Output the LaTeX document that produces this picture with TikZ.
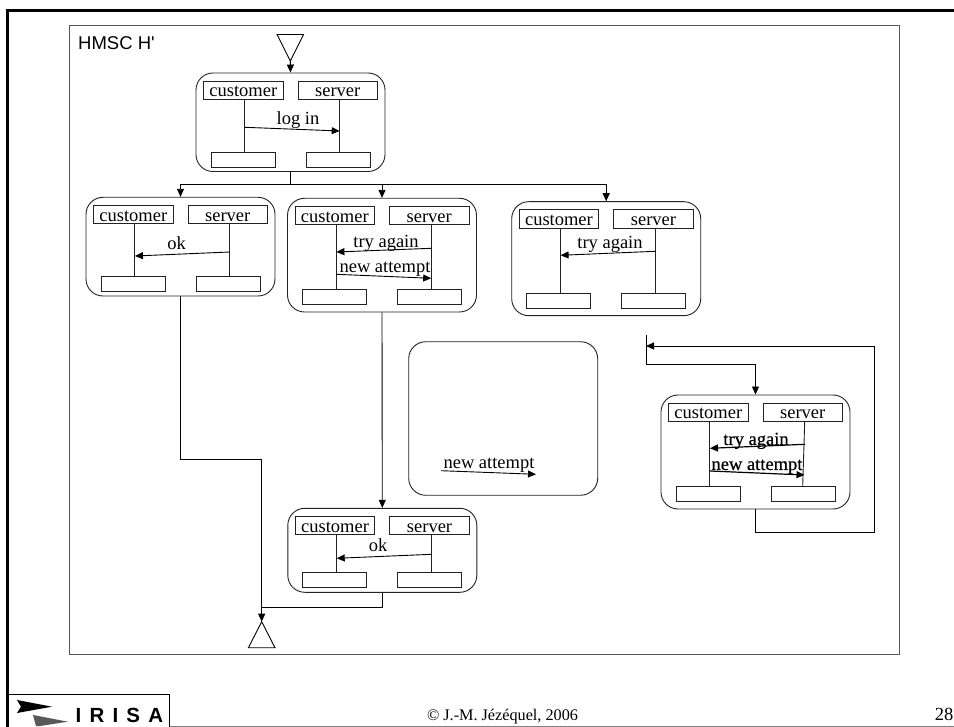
\documentclass[tikz,border=0pt]{standalone}
\usepackage{fontspec}
\setmainfont{Liberation Serif}
\newfontfamily\hsans{Liberation Sans}
\usetikzlibrary{arrows.meta,calc}
\definecolor{framegray}{HTML}{555555}
\definecolor{linegray}{HTML}{222222}
\tikzset{
  msc/.style={draw=linegray,line width=0.9pt,rounded corners=17pt,inner sep=0pt,minimum width=189pt},
  headbox/.style={draw=linegray,line width=0.9pt,inner xsep=0pt,inner ysep=0pt,minimum width=79.5pt,
     text height=16pt,text depth=2.5pt,font=\fontsize{18.5pt}{20pt}\selectfont},
  stopbox/.style={draw=linegray,line width=0.9pt,inner sep=0pt,minimum width=64pt,minimum height=15pt},
  life/.style={draw=linegray,line width=0.9pt},
  flow/.style={draw=black,line width=0.9pt,-{Triangle[length=8pt,width=7pt]}},
  plainflow/.style={draw=black,line width=0.9pt},
  msgarrow/.style={draw=black,line width=0.9pt,-{Triangle[length=8pt,width=7pt]}},
  msglabel/.style={anchor=base,inner sep=0pt,font=\fontsize{18.5pt}{20pt}\selectfont},
  boldlabel/.style={msglabel,font=\fontsize{18.5pt}{20pt}\selectfont\addfontfeature{FakeBold=0.6}},
  tri/.style={draw=black,line width=0.9pt,line join=miter},
}
% name, left, top, height, rel. top of stop boxes, shift of the right lifeline foot
\newcommand{\mscframe}[6]{%
  \node[msc,minimum height=#4 pt] (#1) at ({#2+94.5},{#3+#4/2}) {};
  \node[headbox] (#1-c) at ({#2+47.25},{#3+17.25}) {customer};
  \node[headbox] (#1-s) at ({#2+141.75},{#3+17.25}) {server};
  \node[stopbox] (#1-cs) at ({#2+47},{#3+#5+7.5}) {};
  \node[stopbox] (#1-ss) at ({#2+142},{#3+#5+7.5}) {};
  \coordinate (#1-l1) at ({#2+48.9},{#3+26.5});
  \coordinate (#1-l2) at ({#2+48.9},{#3+#5});
  \coordinate (#1-r1) at ({#2+143.7},{#3+26.5});
  \coordinate (#1-r2) at ({#2+143.7+#6},{#3+#5});
  \draw[life] (#1-l1) -- (#1-l2);
  \draw[life] (#1-r1) -- (#1-r2);
}
\begin{document}
\begin{tikzpicture}[x=1pt,y=-1pt]
\useasboundingbox (0,0) rectangle (954,727);
% slide frame
\coordinate (f1) at (7.5,727);
\coordinate (f2) at (7.5,10.5);
\coordinate (f3) at (954,10.5);
\draw[black,line width=2.6pt] (f1) -- (f2) -- (f3);
\coordinate (l1) at (169,726.2);
\coordinate (l2) at (954,726.2);
\draw[gray,line width=1pt] (l1) -- (l2);
% logo
\coordinate (lg1) at (7.5,694.5);
\coordinate (lg2) at (169,694.5);
\coordinate (lg3) at (169,727);
\draw[black,line width=1pt] (lg1) -- (lg2) -- (lg3);
\fill[black] (17,700) -- (52,706.7) -- (17,713) -- (21,706.7) -- cycle;
\fill[black!65] (33,715) -- (68,721.7) -- (40,726) -- (36,726) -- cycle;
\node[anchor=base west,inner sep=0pt,font=\hsans\bfseries\fontsize{20.5pt}{22pt}\selectfont\addfontfeature{LetterSpace=40}] (logo) at (75.5,722) {IRISA};
% inner frame
\node[draw=framegray,line width=1pt,inner sep=0pt,minimum width=830pt,minimum height=628.5pt] (outer) at (484,339.8) {};
\node[anchor=base west,inner sep=0pt,font=\hsans\fontsize{18.5pt}{20pt}\selectfont] (title) at (78,50) {HMSC H'};
% footer
\node[anchor=base,inner sep=0pt,font=\fontsize{16.2pt}{18pt}\selectfont] (copy) at (502.5,720) {© J.-M. Jézéquel, 2006};
\node[anchor=base east,inner sep=0pt,font=\fontsize{18.5pt}{20pt}\selectfont] (page) at (953.5,720.5) {28};
% start and end triangles
\draw[tri] (277,34.5) coordinate (ta) -- (303.5,34.5) coordinate (tb) -- (290.3,61) coordinate (tc) -- cycle;
\draw[tri] (261.7,621.7) coordinate (ea) -- (275,647.7) coordinate (eb) -- (248.4,647.7) coordinate (ec) -- cycle;
% frames
\mscframe{a}{196}{73}{98.5}{79.5}{0}
\mscframe{b}{86}{197.3}{98.7}{79.5}{0}
\mscframe{c}{287.5}{198.3}{113.7}{91}{0}
\mscframe{d}{511.7}{201.7}{114}{91.5}{0}
\mscframe{e}{661}{395}{114}{91}{-2}
\mscframe{f}{287.8}{508.3}{84}{64.5}{0}
\node[msc,minimum height=153.5pt] (g) at (503.2,418.5) {};
% messages
\coordinate (a1) at (244.9,127.3); \coordinate (a2) at (339.7,131);
\draw[msgarrow] (a1) -- (a2);
\node[msglabel] (t1) at (298,125) {log in};
\coordinate (b1) at (229.7,252); \coordinate (b2) at (134.9,256);
\draw[msgarrow] (b1) -- (b2);
\node[msglabel] (t2) at (176.7,249.3) {ok};
\coordinate (c1) at (431.2,248.3); \coordinate (c2) at (336.4,252);
\draw[msgarrow] (c1) -- (c2);
\node[msglabel] (t3) at (386,247.3) {try again};
\coordinate (c3) at (336.4,274.3); \coordinate (c4) at (431.2,278.3);
\draw[msgarrow] (c3) -- (c4);
\node[msglabel] (t4) at (385,272.7) {new attempt};
\coordinate (d1) at (655.4,251.3); \coordinate (d2) at (560.6,255.3);
\draw[msgarrow] (d1) -- (d2);
\node[msglabel] (t5) at (610,249) {try again};
\coordinate (e1) at (805,444.3); \coordinate (e2) at (709.9,448.3);
\draw[msgarrow,line width=1.2pt] (e1) -- (e2);
\node[boldlabel] (t6) at (756,445) {try again};
\coordinate (e3) at (709.9,471); \coordinate (e4) at (804.5,475);
\draw[msgarrow,line width=1.2pt] (e3) -- (e4);
\node[boldlabel] (t7) at (757,470) {new attempt};
\coordinate (g1) at (441,470.7); \coordinate (g2) at (536,474.3);
\draw[msgarrow] (g1) -- (g2);
\node[msglabel] (t8) at (489,468.3) {new attempt};
\coordinate (f1m) at (431.5,554.3); \coordinate (f2m) at (336.7,558.3);
\draw[msgarrow] (f1m) -- (f2m);
\node[msglabel] (t9) at (378,551.7) {ok};
% flow
\draw[flow] (tc) -- (a.north);
\coordinate (jn) at (a.south |- 0,184.8);
\draw[plainflow] (a.south) -- (jn);
\draw[flow] (jn) -| (b.north);
\draw[flow] (jn) -| (c.north);
\draw[flow] (jn) -| (d.north);
\coordinate (be) at (b.south |- 0,459);
\coordinate (be2) at (ea |- 0,459);
\draw[flow] (b.south) -- (be) -- (be2) -- (ea);
\draw[flow] (c.south) -- (f.north);
\coordinate (fe) at (f.south |- 0,607.3);
\coordinate (fe2) at (ea |- 0,607.3);
\draw[plainflow] (f.south) -- (fe) -- (fe2);
% loop
\coordinate (lp0) at (646,335);
\coordinate (lp1) at (646,364.7);
\coordinate (lp2) at (e.north |- 0,364.7);
\draw[flow] (lp0) -- (lp1) -- (lp2) -- (e.north);
\coordinate (lp3) at (e.south |- 0,532);
\coordinate (lp4) at (874.7,532);
\coordinate (lp5) at (874.7,346);
\coordinate (lp6) at (646,346);
\draw[flow] (e.south) -- (lp3) -- (lp4) -- (lp5) -- (lp6);
\end{tikzpicture}
\end{document}
